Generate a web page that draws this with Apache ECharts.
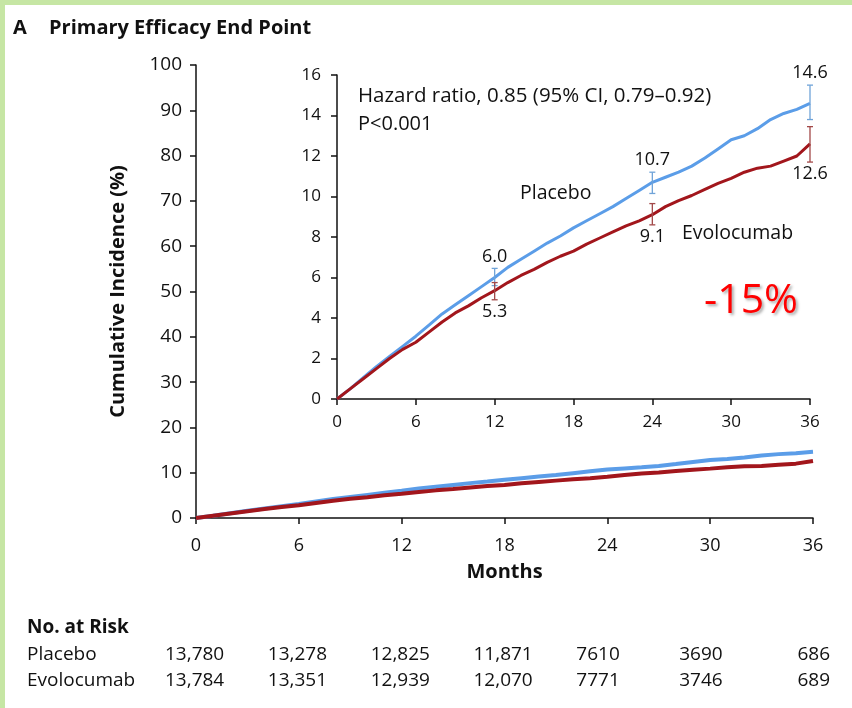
<!DOCTYPE html>
<html><head><meta charset="utf-8">
<script src="https://cdn.jsdelivr.net/npm/echarts@6/dist/echarts.min.js"></script>
<style>html,body{margin:0;padding:0;background:#fff}#c{width:852px;height:708px}</style>
</head><body><div id="c"></div>
<script>
// ---- data ----
const months = [0,1,2,3,4,5,6,7,8,9,10,11,12,13,14,15,16,17,18,19,20,21,22,23,24,25,26,27,28,29,30,31,32,33,34,35,36];
const placebo = [0,0.5,1.05,1.6,2.1,2.6,3.1,3.65,4.2,4.65,5.1,5.55,6.0,6.5,6.9,7.3,7.7,8.05,8.45,8.8,9.15,9.5,9.9,10.3,10.7,10.95,11.2,11.5,11.9,12.35,12.8,13.0,13.35,13.8,14.1,14.3,14.6];
const evolocumab = [0,0.5,1.0,1.5,2.0,2.45,2.8,3.3,3.8,4.25,4.6,5.0,5.35,5.75,6.1,6.4,6.75,7.05,7.3,7.65,7.95,8.25,8.55,8.8,9.1,9.5,9.8,10.05,10.35,10.65,10.9,11.2,11.4,11.5,11.75,12.0,12.6];
const ciMonths = [12,24,36];
const placeboEst = [6.0,10.7,14.6];
const placeboLow = [5.6,10.15,13.8];
const placeboHigh = [6.45,11.2,15.5];
const evoEst = [5.3,9.1,12.6];
const evoLow = [4.9,8.6,11.7];
const evoHigh = [5.75,9.65,13.45];
const xTicks = [0,6,12,18,24,30,36];
const riskPlacebo = ['13,780','13,278','12,825','11,871','7610','3690','686'];
const riskEvolocumab = ['13,784','13,351','12,939','12,070','7771','3746','689'];

const BLUE = '#5b9de8', RED = '#a2161c';
const FONT = 'Open Sans';
const pairs = (xs, ys) => xs.map((x, i) => [x, ys[i]]);

const chart = echarts.init(document.getElementById('c'), null, {renderer: 'canvas'});

function axisCommon(fs, margin) {
  return {
    axisLine: {show: true, onZero: false, lineStyle: {color: '#111', width: 1.5}},
    axisTick: {show: true, length: 6, lineStyle: {color: '#111', width: 1.5}},
    splitLine: {show: false},
    axisLabel: {color: '#111', fontFamily: FONT, fontSize: fs, margin: margin}
  };
}

function errorBar(color) {
  return function (params, api) {
    const x = api.value(0);
    const lo = api.coord([x, api.value(1)]);
    const hi = api.coord([x, api.value(2)]);
    const w = 3;
    const st = {stroke: color, lineWidth: 1.3};
    return {type: 'group', children: [
      {type: 'line', shape: {x1: lo[0], y1: lo[1], x2: hi[0], y2: hi[1]}, style: st},
      {type: 'line', shape: {x1: lo[0]-w, y1: lo[1], x2: lo[0]+w, y2: lo[1]}, style: st},
      {type: 'line', shape: {x1: hi[0]-w, y1: hi[1], x2: hi[0]+w, y2: hi[1]}, style: st}
    ]};
  };
}

const valueLabel = (pos) => ({show: true, position: pos, distance: 3, formatter: p => p.name,
  fontFamily: FONT, fontSize: 18, color: '#111', opacity: 1});

const option = {
  animation: false,
  backgroundColor: '#fff',
  grid: [
    {left: 196, right: 39, top: 65, bottom: 190},
    {left: 337, right: 42, top: 75, bottom: 309}
  ],
  xAxis: [
    Object.assign(axisCommon(18, 19), {
      type: 'value', gridIndex: 0, min: 0, max: 36, interval: 6,
      name: 'Months', nameLocation: 'middle', nameGap: 44,
      nameTextStyle: {fontFamily: FONT, fontWeight: 'bold', fontSize: 20, color: '#111'}
    }),
    Object.assign(axisCommon(17, 15), {type: 'value', gridIndex: 1, min: 0, max: 36, interval: 6})
  ],
  yAxis: [
    Object.assign(axisCommon(19, 14), {
      type: 'value', gridIndex: 0, min: 0, max: 100, interval: 10,
      name: 'Cumulative Incidence (%)', nameLocation: 'middle', nameGap: 68, nameRotate: 90,
      nameTextStyle: {fontFamily: FONT, fontWeight: 'bold', fontSize: 20, color: '#111'}
    }),
    Object.assign(axisCommon(17, 16), {type: 'value', gridIndex: 1, min: 0, max: 16, interval: 2})
  ],
  series: [
    {type: 'line', xAxisIndex: 0, yAxisIndex: 0, data: pairs(months, placebo), showSymbol: false,
      lineStyle: {color: BLUE, width: 4}, itemStyle: {color: BLUE}, z: 3},
    {type: 'line', xAxisIndex: 0, yAxisIndex: 0, data: pairs(months, evolocumab), showSymbol: false,
      lineStyle: {color: RED, width: 4}, itemStyle: {color: RED}, z: 4},
    {type: 'line', xAxisIndex: 1, yAxisIndex: 1, data: pairs(months, placebo), showSymbol: false,
      lineStyle: {color: BLUE, width: 3}, itemStyle: {color: BLUE}, z: 3},
    {type: 'line', xAxisIndex: 1, yAxisIndex: 1, data: pairs(months, evolocumab), showSymbol: false,
      lineStyle: {color: RED, width: 3}, itemStyle: {color: RED}, z: 4},
    {type: 'custom', xAxisIndex: 1, yAxisIndex: 1, renderItem: errorBar('#6fa3d8'),
      data: ciMonths.map((m, i) => [m, placeboLow[i], placeboHigh[i]]), z: 5},
    {type: 'custom', xAxisIndex: 1, yAxisIndex: 1, renderItem: errorBar('#a24848'),
      data: ciMonths.map((m, i) => [m, evoLow[i], evoHigh[i]]), z: 5},
    {type: 'scatter', xAxisIndex: 1, yAxisIndex: 1, symbolSize: 0, silent: true,
      itemStyle: {opacity: 1},
      data: ciMonths.map((m, i) => ({value: [m, placeboHigh[i]], name: placeboEst[i].toFixed(1)})),
      label: valueLabel('top')},
    {type: 'scatter', xAxisIndex: 1, yAxisIndex: 1, symbolSize: 0, silent: true,
      itemStyle: {opacity: 1},
      data: ciMonths.map((m, i) => ({value: [m, evoLow[i]], name: evoEst[i].toFixed(1)})),
      label: valueLabel('bottom')}
  ]
};
chart.setOption(option);

// annotations and at-risk table
const txt = (x, y, text, o) => ({type: 'text', x, y, style: Object.assign({text, fill: '#111',
  font: '19px "' + FONT + '"', textVerticalAlign: 'middle'}, o || {})});
const riskX = xTicks.map(t => chart.convertToPixel({xAxisIndex: 0}, t));
const g = [
  {type: 'rect', shape: {x: 0, y: 0, width: 5, height: 708}, style: {fill: '#c6e6a4'}},
  {type: 'rect', shape: {x: 0, y: 0, width: 852, height: 5}, style: {fill: '#c6e6a4'}},
  txt(13, 28, 'A', {font: 'bold 20px "' + FONT + '"'}),
  txt(49, 28, 'Primary Efficacy End Point', {font: 'bold 20px "' + FONT + '"'}),
  txt(358, 96, 'Hazard ratio, 0.85 (95% CI, 0.79\u20130.92)', {font: '20.5px "' + FONT + '"'}),
  txt(358, 124, 'P<0.001', {font: '20px "' + FONT + '"'}),
  txt(520, 193, 'Placebo', {font: '19.5px "' + FONT + '"'}),
  txt(682, 233, 'Evolocumab', {font: '19.5px "' + FONT + '"'}),
  txt(704, 301, '-15%', {font: '41px "' + FONT + '"', fill: '#ff0000',
    textShadowColor: 'rgba(0,0,0,0.35)', textShadowBlur: 3, textShadowOffsetX: 2, textShadowOffsetY: 2}),
  txt(27, 628, 'No. at Risk', {font: 'bold 19px "' + FONT + '"'}),
  txt(27, 655, 'Placebo'),
  txt(27, 681, 'Evolocumab')
];
const lastCol = xTicks.length - 1;
[[riskPlacebo, 655], [riskEvolocumab, 681]].forEach(([row, y]) => {
  row.forEach((v, i) => {
    if (i === lastCol) g.push(txt(riskX[i] + 17, y, v, {textAlign: 'right'}));
    else g.push(txt(riskX[i] - 31, y, v, {textAlign: 'left'}));
  });
});
chart.setOption({graphic: {elements: g}});
</script>
</body></html>
